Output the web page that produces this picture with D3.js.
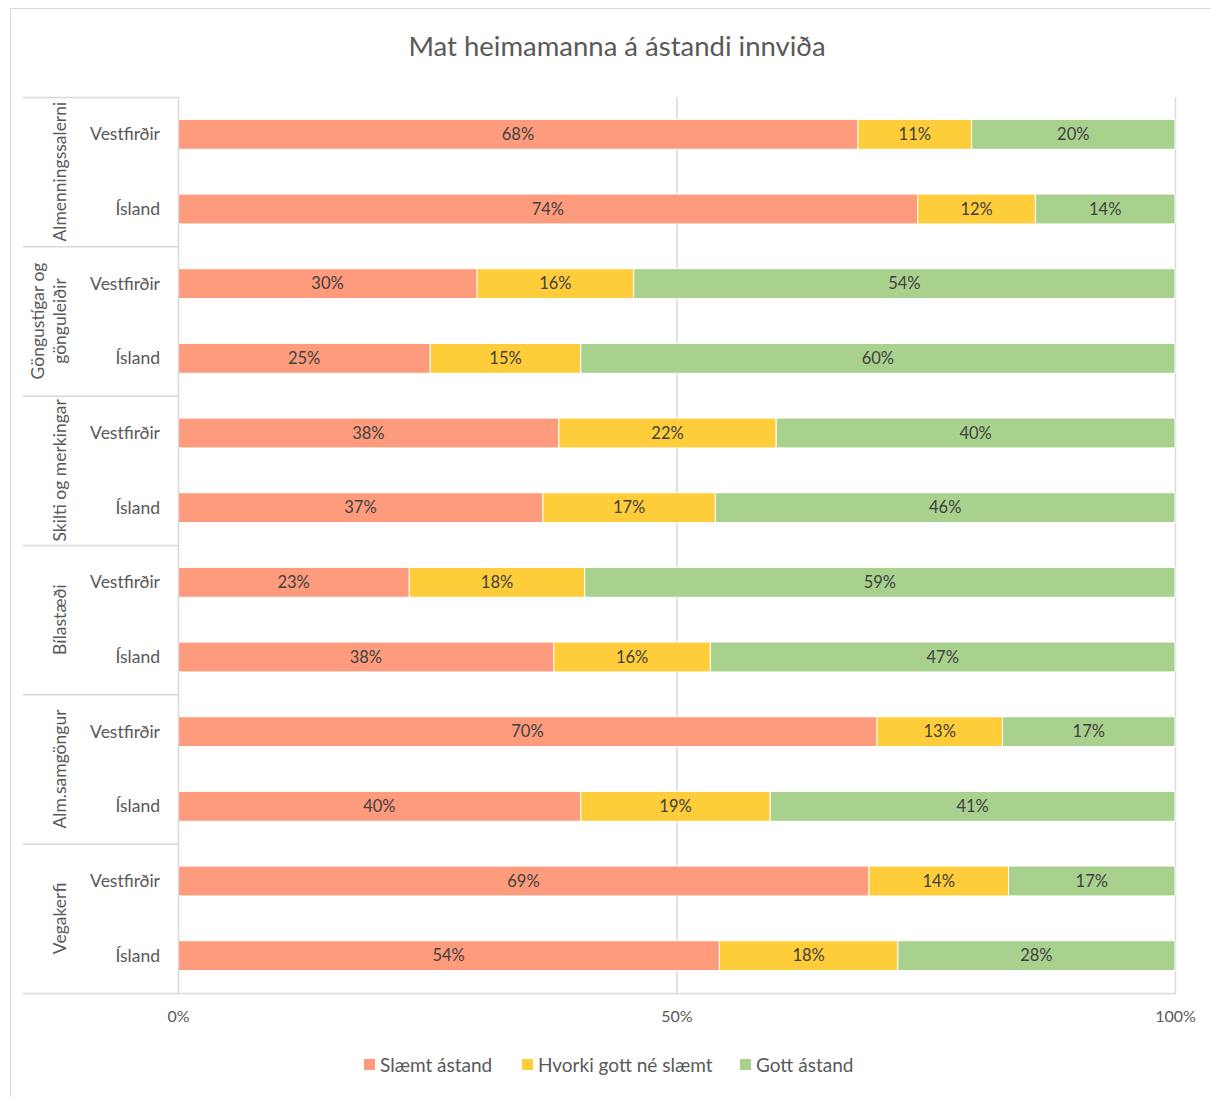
<!DOCTYPE html>
<html>
<head>
<meta charset="utf-8">
<script src="https://cdn.jsdelivr.net/npm/d3@7"></script>
<style>
  body { margin: 0; background: #fff; }
  svg { font-family: Lato, "Open Sans", sans-serif; }
</style>
</head>
<body>
<div id="chart"></div>
<script>
// categories (top to bottom)
const groups = ["Almenningssalerni", "Göngustígar og gönguleiðir", "Skilti og merkingar", "Bílastæði", "Alm.samgöngur", "Vegakerfi"];
const subs = ["Vestfirðir", "Ísland"];
const seriesNames = ["Slæmt ástand", "Hvorki gott né slæmt", "Gott ástand"];
const seriesColors = ["#fd9b7c", "#ffcd3a", "#a9d18e"];

// percent values per row, in order of groups x subs
const slaemt = [68.2, 74.2, 30.0, 25.3, 38.2, 36.6, 23.2, 37.7, 70.1, 40.4, 69.3, 54.3];
const hvorki = [11.4, 11.8, 15.7, 15.1, 21.8, 17.3, 17.6, 15.7, 12.6, 19.0, 14.0, 17.9];
const gott   = [20.4, 14.0, 54.3, 59.6, 40.0, 46.1, 59.2, 46.6, 17.3, 40.6, 16.7, 27.8];
const xTicks = [0, 50, 100];

const W = 1211, H = 1097;
const plotLeft = 178, plotRight = 1175, plotTop = 97, plotBottom = 993;
const textCol = "#595959";

const rows = [];
groups.forEach(g => subs.forEach(s => rows.push({ key: g + "|" + s, group: g, sub: s })));
rows.forEach((r, i) => { r.vals = [slaemt[i], hvorki[i], gott[i]]; });

const svg = d3.select("#chart").append("svg")
    .attr("width", W).attr("height", H);

// outer frame
svg.append("rect")
    .attr("x", 10.5).attr("y", 8.5)
    .attr("width", 1230).attr("height", 1120)
    .attr("fill", "none").attr("stroke", "#d9d9d9");

svg.append("text")
    .attr("x", 617).attr("y", 56)
    .attr("text-anchor", "middle")
    .attr("font-size", 27.5)
    .attr("fill", textCol)
    .text("Mat heimamanna á ástandi innviða");

const x = d3.scaleLinear().domain([0, 100]).range([plotLeft, plotRight]);
const y = d3.scaleBand().domain(rows.map(r => r.key)).range([plotTop, plotBottom]).paddingInner(0.6).paddingOuter(0.3);

// gridlines
svg.append("g").selectAll("line")
    .data(xTicks.slice(1))
    .join("line")
    .attr("x1", d => x(d) + 0.5).attr("x2", d => x(d) + 0.5)
    .attr("y1", plotTop).attr("y2", plotBottom)
    .attr("stroke", "#d9d9d9").attr("stroke-width", 1.5);

// x axis labels
const xAxis = svg.append("g")
    .attr("transform", `translate(0,${plotBottom})`)
    .call(d3.axisBottom(x).tickValues(xTicks).tickFormat(d => d + "%").tickSize(0).tickPadding(18));
xAxis.select(".domain").remove();
xAxis.selectAll("text").attr("font-size", 16).attr("fill", textCol).attr("font-family", "Lato, sans-serif");

// stacked bars
const stack = d3.stack().keys([0, 1, 2]).value((r, k) => r.vals[k]);
const stacked = stack(rows);

const layer = svg.append("g").selectAll("g")
    .data(stacked)
    .join("g")
    .attr("fill", (d, i) => seriesColors[i]);

layer.selectAll("rect")
    .data(d => d)
    .join("rect")
    .attr("x", d => x(d[0]))
    .attr("y", d => y(d.data.key))
    .attr("width", d => x(d[1]) - x(d[0]))
    .attr("height", y.bandwidth())
    .attr("stroke", "#fff").attr("stroke-width", 1);

layer.selectAll("text")
    .data(d => d)
    .join("text")
    .attr("x", d => (x(d[0]) + x(d[1])) / 2)
    .attr("y", d => y(d.data.key) + y.bandwidth() / 2)
    .attr("dy", "0.35em")
    .attr("text-anchor", "middle")
    .attr("font-size", 16.5)
    .attr("fill", "#404040")
    .text(d => Math.round(d[1] - d[0]) + "%");

// category axis
const catAxis = svg.append("g");
catAxis.append("line")
    .attr("x1", plotLeft + 0.5).attr("x2", plotLeft + 0.5)
    .attr("y1", plotTop).attr("y2", plotBottom)
    .attr("stroke", "#d9d9d9").attr("stroke-width", 1.5);
catAxis.append("line")
    .attr("x1", 23).attr("x2", plotRight + 1)
    .attr("y1", plotBottom + 0.5).attr("y2", plotBottom + 0.5)
    .attr("stroke", "#d9d9d9").attr("stroke-width", 1.5);

const groupBand = d3.scaleBand().domain(groups).range([plotTop, plotBottom]);
catAxis.selectAll(".sep")
    .data(groups)
    .join("line")
    .attr("x1", 23).attr("x2", plotLeft)
    .attr("y1", d => groupBand(d) + 0.5).attr("y2", d => groupBand(d) + 0.5)
    .attr("stroke", "#d9d9d9").attr("stroke-width", 1.5);

catAxis.selectAll(".sub")
    .data(rows)
    .join("text")
    .attr("x", 160)
    .attr("y", d => y(d.key) + y.bandwidth() / 2)
    .attr("dy", "0.35em")
    .attr("text-anchor", "end")
    .attr("font-size", 17.5)
    .attr("fill", textCol)
    .text(d => d.sub);

const groupLines = {
  "Göngustígar og gönguleiðir": ["Göngustígar og", "gönguleiðir"]
};
catAxis.selectAll(".grp")
    .data(groups)
    .join("text")
    .attr("transform", d => `translate(60,${groupBand(d) + groupBand.bandwidth() / 2}) rotate(-90)`)
    .attr("text-anchor", "middle")
    .attr("font-size", 17.5)
    .attr("fill", textCol)
    .each(function(d) {
      const lines = groupLines[d] || [d];
      const t = d3.select(this);
      lines.forEach((ln, i) => {
        t.append("tspan")
          .attr("x", 0)
          .attr("dy", i === 0 ? (lines.length === 1 ? "0.35em" : "-0.9em") : "1.25em")
          .text(ln);
      });
    });

// legend
const legendX = [364, 522, 740];
const legend = svg.append("g").selectAll("g")
    .data(seriesNames)
    .join("g")
    .attr("transform", (d, i) => `translate(${legendX[i]},1065)`);
legend.append("rect")
    .attr("x", 0).attr("y", -6)
    .attr("width", 11).attr("height", 11)
    .attr("fill", (d, i) => seriesColors[i]);
legend.append("text")
    .attr("x", 16).attr("dy", "0.35em")
    .attr("font-size", 19)
    .attr("fill", textCol)
    .text(d => d);
</script>
</body>
</html>
